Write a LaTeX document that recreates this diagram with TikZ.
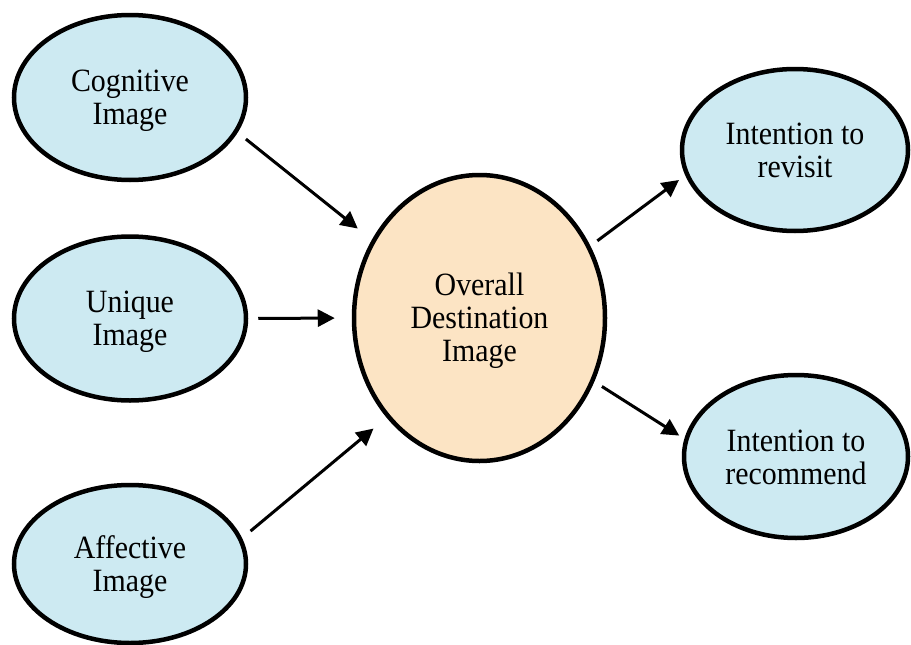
\documentclass[tikz,border=0pt]{standalone}
\usepackage{fontspec}
\setmainfont{Liberation Serif}[FakeStretch=0.92]
\usetikzlibrary{shapes.geometric,arrows.meta}
\definecolor{imgblue}{RGB}{205,234,242}
\definecolor{imgpeach}{RGB}{252,228,196}
% struts giving every label the same line box above and below
\newcommand{\tstrut}{\rule{0pt}{29pt}}
\newcommand{\bstrut}{\rule[-7pt]{0pt}{7pt}}
\begin{document}
\begin{tikzpicture}[x=1pt,y=-1pt,
  bubble/.style={ellipse, draw=black, line width=4.5pt, inner sep=0pt,
    align=center, font=\fontsize{32.5}{33}\selectfont},
  antecedent/.style={bubble, fill=imgblue},
  core/.style={bubble, fill=imgpeach},
  link/.style={line width=3pt, -{Triangle[length=17pt,width=17pt]}}]
\useasboundingbox (0,0) rectangle (911,645);

% image components
\node[antecedent, minimum width=232pt, minimum height=165pt] (cog) at (130,97.5)
  {\tstrut Cognitive\\Image\bstrut};
\node[antecedent, minimum width=232pt, minimum height=164pt] (uni) at (130,318.5)
  {\tstrut Unique\\Image\bstrut};
\node[antecedent, minimum width=232pt, minimum height=158pt] (aff) at (130,564)
  {\tstrut Affective\\Image\bstrut};

% overall image
\node[core, minimum width=251pt, minimum height=286pt] (ode) at (479.5,318)
  {\tstrut Overall\\Destination\\Image\bstrut};

% behavioural intentions
\node[antecedent, minimum width=226pt, minimum height=162pt] (rev) at (795,150)
  {\tstrut Intention to\\revisit\bstrut};
\node[antecedent, minimum width=224pt, minimum height=163pt] (rec) at (796,456.5)
  {\tstrut Intention to\\recommend\bstrut};

% paths
\draw[link, shorten <=10.5pt, shorten >=18pt] (cog.-18.2) -- (ode.144.8);
\draw[link, shorten <=10pt, shorten >=17pt] (uni.east) -- (ode.west);
\draw[link, shorten <=11pt, shorten >=17pt] (aff.13.2) -- (ode.227);
\draw[link, shorten <=8.6pt, shorten >=7.8pt] (ode.33.5) -- (rev.193.7);
\draw[link, shorten <=9pt, shorten >=6pt] (ode.-29.1) -- (rec.171);
\end{tikzpicture}
\end{document}
